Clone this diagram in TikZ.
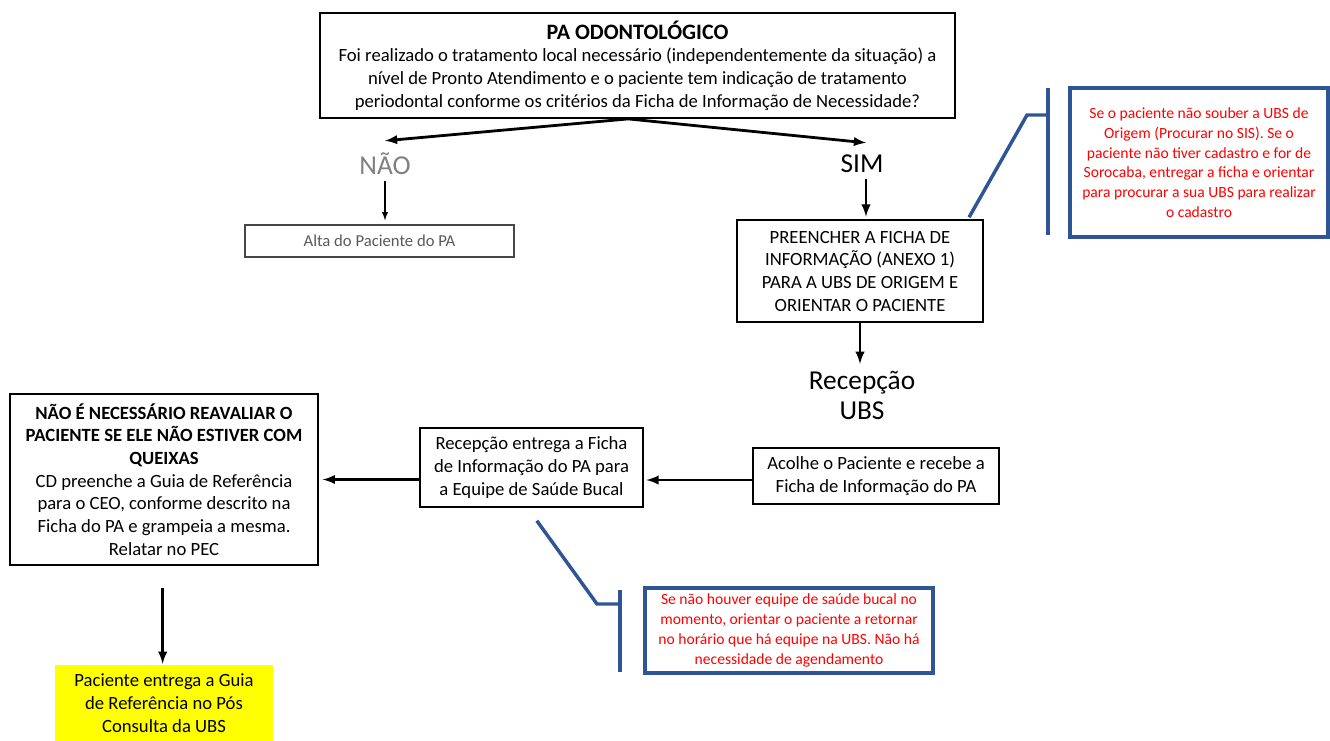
\documentclass[tikz,border=0pt]{standalone}
\usepackage{fontspec}
\setmainfont{Carlito}
\definecolor{azulnota}{RGB}{47,85,151}
\definecolor{cinzanao}{RGB}{128,128,128}
\definecolor{cinzaalta}{RGB}{89,89,89}
\definecolor{amarelo}{RGB}{255,255,0}
\begin{document}
\begin{tikzpicture}[x=0.75pt, y=-0.75pt, >=latex,
		caixa/.style={draw, line width=1.1pt, align=center, inner sep=2pt, font=\fontsize{14}{17}\selectfont},
		nota/.style={draw=azulnota, line width=2.6pt, align=center, text=red, inner sep=2pt, font=\fontsize{11.7}{14.8}\selectfont},
		rotulo/.style={align=center, inner sep=0pt, font=\fontsize{20.5}{22.5}\selectfont},
		seta/.style={->, line width=2.1pt},
		chave/.style={azulnota, line width=2.6pt}]
	\useasboundingbox (0,0) rectangle (1330,740);

	\node[caixa, minimum width=476pt, minimum height=79pt] (pa) at (637.5,65.5)
		{{\fontsize{16.5}{18}\selectfont\bfseries PA ODONTOLÓGICO}\\
		Foi realizado o tratamento local necessário (independentemente da situação) a\\
		nível de Pronto Atendimento e o paciente tem indicação de tratamento\\
		periodontal conforme os critérios da Ficha de Informação de Necessidade?};
	\node[rotulo, text=cinzanao] (nao) at (385,164) {NÃO};
	\node[rotulo] (sim) at (862,164) {SIM};
	\node[caixa, draw=cinzaalta!80!black, text=cinzaalta, minimum width=201.75pt, minimum height=24pt, font=\fontsize{12.5}{14}\selectfont] (alta) at (379.5,241) {Alta do Paciente do PA};
	\node[caixa, minimum width=184.5pt, minimum height=76.5pt] (ficha) at (860,271)
		{PREENCHER A FICHA DE\\INFORMAÇÃO (ANEXO 1)\\PARA A UBS DE ORIGEM E\\ORIENTAR O PACIENTE};
	\node[rotulo] (recepcao) at (862,395) {Recepção\\UBS};
	\node[caixa, minimum width=184.5pt, minimum height=42pt] (acolhe) at (876,476)
		{Acolhe o Paciente e recebe a\\Ficha de Informação do PA};
	\node[caixa, minimum width=167.25pt, minimum height=59.25pt] (entrega) at (531.5,467.5)
		{Recepção entrega a Ficha\\de Informação do PA para\\a Equipe de Saúde Bucal};
	\node[caixa, minimum width=231pt, minimum height=128.25pt] (ceo) at (164,479.5)
		{\bfseries NÃO É NECESSÁRIO REAVALIAR O\\\bfseries PACIENTE SE ELE NÃO ESTIVER COM\\\bfseries QUEIXAS\\
		CD preenche a Guia de Referência\\para o CEO, conforme descrito na\\Ficha do PA e grampeia a mesma.\\Relatar no PEC};
	\node[caixa, draw=none, fill=amarelo, minimum width=163.5pt, minimum height=57.75pt] (guia) at (164,703)
		{Paciente entrega a Guia\\de Referência no Pós\\Consulta da UBS};
	\node[nota, minimum width=193.5pt, minimum height=111.75pt] (nota1) at (1199,162.5)
		{Se o paciente não souber a UBS de\\Origem (Procurar no SIS). Se o\\paciente não tiver cadastro e for de\\Sorocaba, entregar a ficha e orientar\\para procurar a sua UBS para realizar\\o cadastro};
	\node[nota, minimum width=216pt, minimum height=63.75pt] (nota2) at (789,630.5)
		{Se não houver equipe de saúde bucal no\\momento, orientar o paciente a retornar\\no horário que há equipe na UBS. Não há\\necessidade de agendamento};

	\coordinate (saida1) at ([yshift=-3pt]acolhe.west);
	\coordinate (saida2) at ([yshift=-9pt]entrega.west);

	\draw[seta] ([xshift=-7pt]pa.south) -- ([yshift=9pt]nao.north);
	\draw[seta] ([xshift=-7pt]pa.south) -- ([xshift=3pt,yshift=9pt]sim.north);
	\draw[->, line width=1.1pt] ([yshift=-4pt]nao.south) -- ([yshift=3pt]nao.south |- alta.north);
	\draw[seta] ([xshift=3pt,yshift=-4pt]sim.south) -- ([xshift=3pt,yshift=2pt]sim.south |- ficha.north);
	\draw[seta] (ficha.south) -- ([yshift=5pt]ficha.south |- recepcao.north);
	\draw[seta] (saida1) -- ([xshift=2pt]entrega.east |- saida1);
	\draw[seta] (saida2) -- ([xshift=3pt]ceo.east |- saida2);
	\draw[seta] ([xshift=-1pt,yshift=-17pt]ceo.south) -- ([xshift=-1pt]guia.north);

	\coordinate (c1a) at (1048,88);
	\coordinate (c1b) at (1048,235);
	\coordinate (c1m) at (1048,115);
	\coordinate (c1k) at (1027,115);
	\draw[chave] (c1a) -- (c1b);
	\draw[chave] ([xshift=-11pt,yshift=1.5pt]ficha.north east) -- (c1k) -- (c1m);

	\coordinate (c2a) at (620,590);
	\coordinate (c2b) at (620,672);
	\coordinate (c2m) at (620,604);
	\coordinate (c2k) at (597,604);
	\draw[chave] (c2a) -- (c2b);
	\draw[chave] ([xshift=4pt,yshift=-9.75pt]entrega.south) -- (c2k) -- (c2m);
\end{tikzpicture}
\end{document}
